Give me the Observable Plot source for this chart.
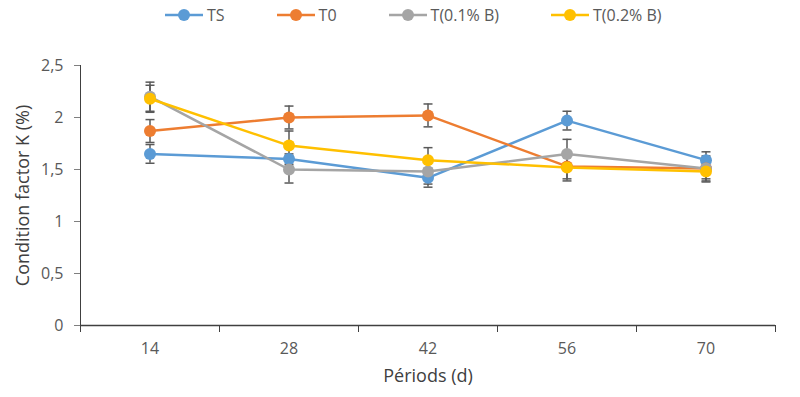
<!DOCTYPE html>
<html><head><meta charset="utf-8">
<script src="https://cdn.jsdelivr.net/npm/d3@7"></script>
<script src="https://cdn.jsdelivr.net/npm/@observablehq/plot@0.6"></script>
<style>
html,body{margin:0;padding:0;background:#fff;}
#wrap{position:relative;width:800px;height:397px;font-family:"Open Sans",sans-serif;}
#legend{position:absolute;left:165px;top:4px;display:flex;gap:52px;font-size:16px;color:#595959;z-index:2;}
#legend .item{display:flex;align-items:center;gap:4px;}
#wrap svg text{font-size:16px !important;}
#wrap svg g[aria-label="x-axis label"] text,
#wrap svg g[aria-label="y-axis label"] text{font-size:18px !important;fill:#404040;}
</style></head>
<body><div id="wrap"><div id="legend"></div></div>
<script>
const periods = [14, 28, 42, 56, 70];
const boundaries = [7, 21, 35, 49, 63, 77];
const seriesNames = ["TS", "T0", "T(0.1% B)", "T(0.2% B)"];
const colors = ["#5B9BD5", "#ED7D31", "#A5A5A5", "#FFC000"];
const TS   = [1.65, 1.60, 1.42, 1.97, 1.59];
const T0   = [1.87, 2.00, 2.02, 1.53, 1.51];
const T01B = [2.20, 1.50, 1.48, 1.65, 1.51];
const T02B = [2.18, 1.73, 1.59, 1.52, 1.48];
const errTS   = [0.09, 0.05, 0.09, 0.09, 0.08];
const errT0   = [0.11, 0.11, 0.11, 0.12, 0.10];
const errT01B = [0.14, 0.13, 0.12, 0.14, 0.12];
const errT02B = [0.13, 0.14, 0.12, 0.13, 0.10];
const yTicks = [0, 0.5, 1, 1.5, 2, 2.5];

const values = [TS, T0, T01B, T02B];
const errs = [errTS, errT0, errT01B, errT02B];
const data = [];
seriesNames.forEach((s, i) => periods.forEach((p, j) => data.push({series: s, period: p, k: values[i][j], err: errs[i][j]})));

const capSymbol = {draw(ctx, size){ const r = Math.sqrt(size / Math.PI); ctx.moveTo(-r, 0); ctx.lineTo(r, 0); }};
const fmt = d => String(d).replace(".", ",");

const marks = [
  Plot.axisY({ticks: yTicks, tickFormat: fmt, tickSize: 6, tickPadding: 11, color: "#595959", stroke: "#7f7f7f",
    label: "Condition factor K (%)", labelAnchor: "center", labelOffset: 64, labelArrow: "none"}),
  Plot.axisX({ticks: periods, tickSize: 0, tickPadding: 17, color: "#595959",
    label: "Périods (d)", labelAnchor: "center", labelOffset: 56, labelArrow: "none"}),
  Plot.axisX({ticks: boundaries, tickSize: 7, tickFormat: () => "", stroke: "#404040", label: null}),
  Plot.ruleY([0], {stroke: "#404040", strokeWidth: 1.5}),
  Plot.ruleX([7], {stroke: "#404040", strokeWidth: 1}),
  Plot.ruleX(data, {x: "period", y1: d => d.k - d.err, y2: d => d.k + d.err, stroke: "#595959", strokeWidth: 1.5}),
  Plot.dot(data, {x: "period", y: d => d.k - d.err, symbol: capSymbol, r: 4.5, stroke: "#595959", strokeWidth: 1.5, fill: "none"}),
  Plot.dot(data, {x: "period", y: d => d.k + d.err, symbol: capSymbol, r: 4.5, stroke: "#595959", strokeWidth: 1.5, fill: "none"})
];
seriesNames.forEach((s, i) => {
  const sd = data.filter(d => d.series === s);
  marks.push(Plot.line(sd, {x: "period", y: "k", stroke: colors[i], strokeWidth: 2.5}));
  marks.push(Plot.dot(sd, {x: "period", y: "k", fill: colors[i], r: 6}));
});

const chart = Plot.plot({
  width: 800, height: 397,
  marginLeft: 80, marginRight: 25, marginTop: 65, marginBottom: 72,
  style: {fontFamily: "'Open Sans', sans-serif", background: "white", color: "#404040"},
  x: {type: "linear", domain: [7, 77]},
  y: {domain: [0, 2.5]},
  marks
});
document.getElementById("wrap").appendChild(chart);

const legend = document.getElementById("legend");
seriesNames.forEach((s, i) => {
  const it = document.createElement("div");
  it.className = "item";
  it.innerHTML = `<svg width="38" height="14"><line x1="0" y1="7" x2="38" y2="7" stroke="${colors[i]}" stroke-width="2.5"/><circle cx="19" cy="7" r="6" fill="${colors[i]}"/></svg><span>${s}</span>`;
  legend.appendChild(it);
});
</script></body></html>
